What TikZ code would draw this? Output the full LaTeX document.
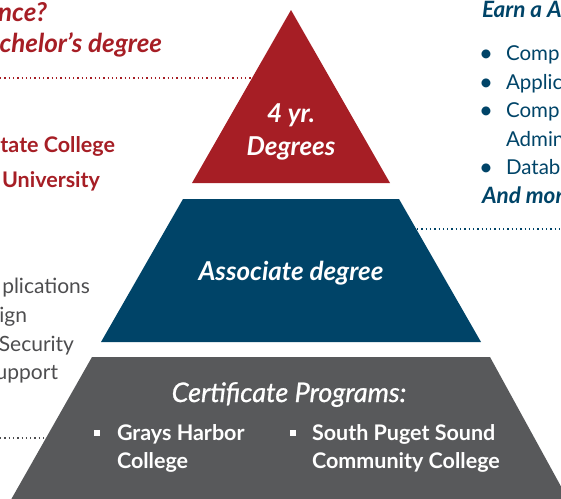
\documentclass[tikz,border=0pt]{standalone}
\usepackage{fontspec}
\setmainfont{Lato}
\newfontfamily\latomed[FakeBold=0.9]{Lato}
\definecolor{pred}{HTML}{A61E25}
\definecolor{pblue}{HTML}{004468}
\definecolor{pgray}{HTML}{58595B}
\definecolor{tgray}{HTML}{4D4D4F}
\begin{document}
\begin{tikzpicture}[x=1pt,y=-1pt,
  txt/.style={inner sep=0pt, outer sep=0pt, font=\fontsize{20.5}{24}\selectfont},
  redhead/.style={txt, text=pred, font=\fontsize{26}{30}\selectfont\bfseries\itshape},
  redtxt/.style={txt, text=pred, font=\fontsize{21.5}{24}\selectfont\bfseries},
  graytxt/.style={txt, text=tgray, font=\fontsize{21}{24}\selectfont},
  bluetxt/.style={txt, text=pblue},
  bluehead/.style={txt, text=pblue, font=\fontsize{22.5}{26}\selectfont\bfseries\itshape},
  pyrtxt/.style={txt, text=white, font=\fontsize{26}{30}\selectfont\bfseries\itshape},
  certtxt/.style={txt, text=white, font=\fontsize{27}{30}\selectfont\latomed\itshape},
  itemtxt/.style={txt, text=white, font=\fontsize{21.5}{28}\selectfont\bfseries},
  sqbullet/.style={fill=white, minimum size=6pt, inner sep=0pt},
  dots/.style={line width=1.3pt, dash pattern=on 1.3pt off 3pt}
]
\useasboundingbox (0,0) rectangle (561,498);
\clip (0,0) rectangle (561,498);
% pyramid layers
\fill[pred] (291,10) -- (390,183) -- (192,183) -- cycle;
\fill[pblue] (183,199) -- (399,199) -- (481,342) -- (101,342) -- cycle;
\fill[pgray] (92,357) -- (490,357) -- (575,512) -- (4,512) -- cycle;
% dotted leaders
\coordinate (r0) at (0,78);   \coordinate (r1) at (251,78);
\coordinate (b0) at (417,229); \coordinate (b1) at (561,229);
\coordinate (g0) at (0,438);  \coordinate (g1) at (44,438);
\draw[dots, pred] (r0) -- (r1);
\draw[dots, pblue] (b0) -- (b1);
\draw[dots, tgray] (g0) -- (g1);
% left texts
\node[redhead, anchor=base east] (t1) at (47,21) {nce?};
\node[redhead, anchor=base east] (t2) at (162,52) {chelor’s degree};
\node[redtxt, anchor=base east] (t3) at (115,152) {tate College};
\node[redtxt, anchor=base east] (t4) at (100,187) {University};
\node[graytxt, anchor=base east] (t5) at (90,293) {plications};
\node[graytxt, anchor=base east] (t6) at (27,322) {ign};
\node[graytxt, anchor=base east] (t7) at (74,351) {Security};
\node[graytxt, anchor=base east] (t8) at (58,379) {upport};
% right texts
\node[bluehead, anchor=base west] (e0) at (482,17) {Earn a A};
\foreach \y/\w [count=\i] in {60/Comp,89/Applic,117/Comp,174/Datab}{
  \node[bluetxt, anchor=base] (bl\i) at (486,\y) {\bfseries •};
  \node[bluetxt, anchor=base west] (bt\i) at (506,\y) {\w};
}
\node[bluetxt, anchor=base west] (bt5) at (506,146) {Admin};
\node[bluehead, anchor=base west] (e1) at (482,203) {And mor};
% pyramid texts
\node[pyrtxt, anchor=base] (p1) at (291,122) {4 yr.};
\node[pyrtxt, anchor=base] (p2) at (291,155) {Degrees};
\node[pyrtxt, anchor=base] (p3) at (291,280) {Associate degree};
\node[certtxt, anchor=base] (p4) at (289,402) {Certif{}icate Programs:};
\node[sqbullet] (s1) at (97,433) {};
\node[itemtxt, anchor=base west] (c1) at (117,440) {Grays Harbor};
\node[itemtxt, anchor=base west] (c2) at (117,468) {College};
\node[sqbullet] (s2) at (293,433) {};
\node[itemtxt, anchor=base west] (c3) at (312,440) {South Puget Sound};
\node[itemtxt, anchor=base west] (c4) at (312,468) {Community College};
\end{tikzpicture}
\end{document}
